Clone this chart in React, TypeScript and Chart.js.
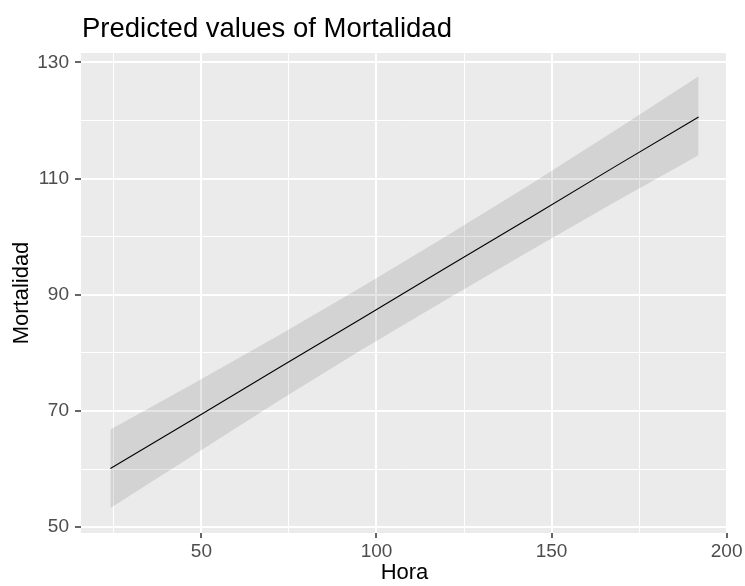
import React, { useEffect, useRef } from 'react';
import { Chart, registerables } from 'chart.js';

Chart.register(...registerables);

// Data
const hora = [24, 48, 72, 96, 120, 144, 168, 192];
const predicted = [60.1, 68.7, 77.4, 86.0, 94.7, 103.3, 112.0, 120.6];
const upper = [66.8, 74.8, 83.0, 91.4, 100.1, 109.0, 118.2, 127.6];
const lower = [53.3, 62.5, 71.7, 80.6, 89.2, 97.6, 105.9, 114.0];

const xTicks = [25, 50, 75, 100, 125, 150, 175, 200];
const xLabels = [50, 100, 150, 200];
const yTicks = [50, 60, 70, 80, 90, 100, 110, 120, 130];
const yLabels = [50, 70, 90, 110, 130];

const titleText = 'Predicted values of Mortalidad';
const xTitle = 'Hora';
const yTitle = 'Mortalidad';

const FONT = "'Liberation Sans', Arial, sans-serif";

const panelBg = {
  id: 'panelBg',
  beforeDraw(chart: any) {
    const { ctx, chartArea } = chart;
    ctx.save();
    ctx.fillStyle = '#EBEBEB';
    ctx.fillRect(chartArea.left, chartArea.top, chartArea.right - chartArea.left, chartArea.bottom - chartArea.top);
    ctx.restore();
  },
};

const ggTitle = {
  id: 'ggTitle',
  afterDraw(chart: any) {
    const { ctx, chartArea } = chart;
    ctx.save();
    ctx.font = `27.5px ${FONT}`;
    ctx.fillStyle = '#000000';
    ctx.textAlign = 'left';
    ctx.textBaseline = 'alphabetic';
    ctx.fillText(titleText, chartArea.left + 1, 37);
    ctx.restore();
  },
};

export default function App() {
  const ref = useRef<HTMLCanvasElement>(null);

  useEffect(() => {
    if (!ref.current) return;
    const toXY = (vals: number[]) => hora.map((x, i) => ({ x, y: vals[i] }));
    const chart = new Chart(ref.current, {
      type: 'line',
      data: {
        datasets: [
          {
            label: 'Predicted',
            data: toXY(predicted),
            borderColor: '#000000',
            borderWidth: 1.1,
            pointRadius: 0,
            fill: false,
            order: 0,
          },
          {
            label: 'Upper',
            data: toXY(upper),
            borderWidth: 0,
            borderColor: 'rgba(0,0,0,0)',
            backgroundColor: 'rgba(0,0,0,0.1)',
            pointRadius: 0,
            fill: '+1',
            order: 1,
          },
          {
            label: 'Lower',
            data: toXY(lower),
            borderWidth: 0,
            borderColor: 'rgba(0,0,0,0)',
            pointRadius: 0,
            fill: false,
            order: 2,
          },
        ],
      },
      options: {
        responsive: false,
        animation: false,
        devicePixelRatio: 1,
        layout: { padding: { top: 53, right: 17, bottom: 0, left: 0 } },
        plugins: {
          legend: { display: false },
          tooltip: { enabled: false },
          title: { display: false },
        },
        scales: {
          x: {
            type: 'linear',
            min: 15.6,
            max: 200.4,
            afterBuildTicks: (s: any) => {
              s.ticks = xTicks.map((v) => ({ value: v }));
            },
            afterFit: (s: any) => {
              s.height = 53;
            },
            ticks: {
              autoSkip: false,
              maxRotation: 0,
              color: '#4D4D4D',
              font: { size: 19, family: FONT },
              padding: 2,
              callback: (v: any) => (xLabels.includes(Number(v)) ? String(v) : ''),
            },
            grid: {
              color: '#FFFFFF',
              lineWidth: (c: any) => (c.tick && xLabels.includes(c.tick.value) ? 2 : 1),
              tickLength: 5,
              tickWidth: 1.5,
              tickColor: (c: any) => (c.tick && xLabels.includes(c.tick.value) ? '#333333' : 'rgba(0,0,0,0)'),
            },
            border: { display: false },
            title: {
              display: true,
              text: xTitle,
              color: '#000000',
              font: { size: 22, family: FONT },
              padding: { top: 0, bottom: 0 },
            },
          },
          y: {
            type: 'linear',
            min: 49.0,
            max: 131.6,
            afterBuildTicks: (s: any) => {
              s.ticks = yTicks.map((v) => ({ value: v }));
            },
            afterFit: (s: any) => {
              s.width = 81;
            },
            ticks: {
              autoSkip: false,
              color: '#4D4D4D',
              font: { size: 19, family: FONT },
              padding: 6,
              callback: (v: any) => (yLabels.includes(Number(v)) ? String(v) : ''),
            },
            grid: {
              color: '#FFFFFF',
              lineWidth: (c: any) => (c.tick && yLabels.includes(c.tick.value) ? 2 : 1),
              tickLength: 6,
              tickWidth: 1.5,
              tickColor: (c: any) => (c.tick && yLabels.includes(c.tick.value) ? '#333333' : 'rgba(0,0,0,0)'),
            },
            border: { display: false },
            title: {
              display: true,
              text: yTitle,
              color: '#000000',
              font: { size: 22, family: FONT },
              padding: { top: 9, bottom: 0 },
            },
          },
        },
      },
      plugins: [panelBg, ggTitle],
    } as any);
    return () => chart.destroy();
  }, []);

  return (
    <div style={{ position: 'fixed', left: 0, top: 0, width: 745, height: 586, background: '#FFFFFF' }}>
      <canvas ref={ref} width={745} height={586} style={{ display: 'block' }} />
    </div>
  );
}
